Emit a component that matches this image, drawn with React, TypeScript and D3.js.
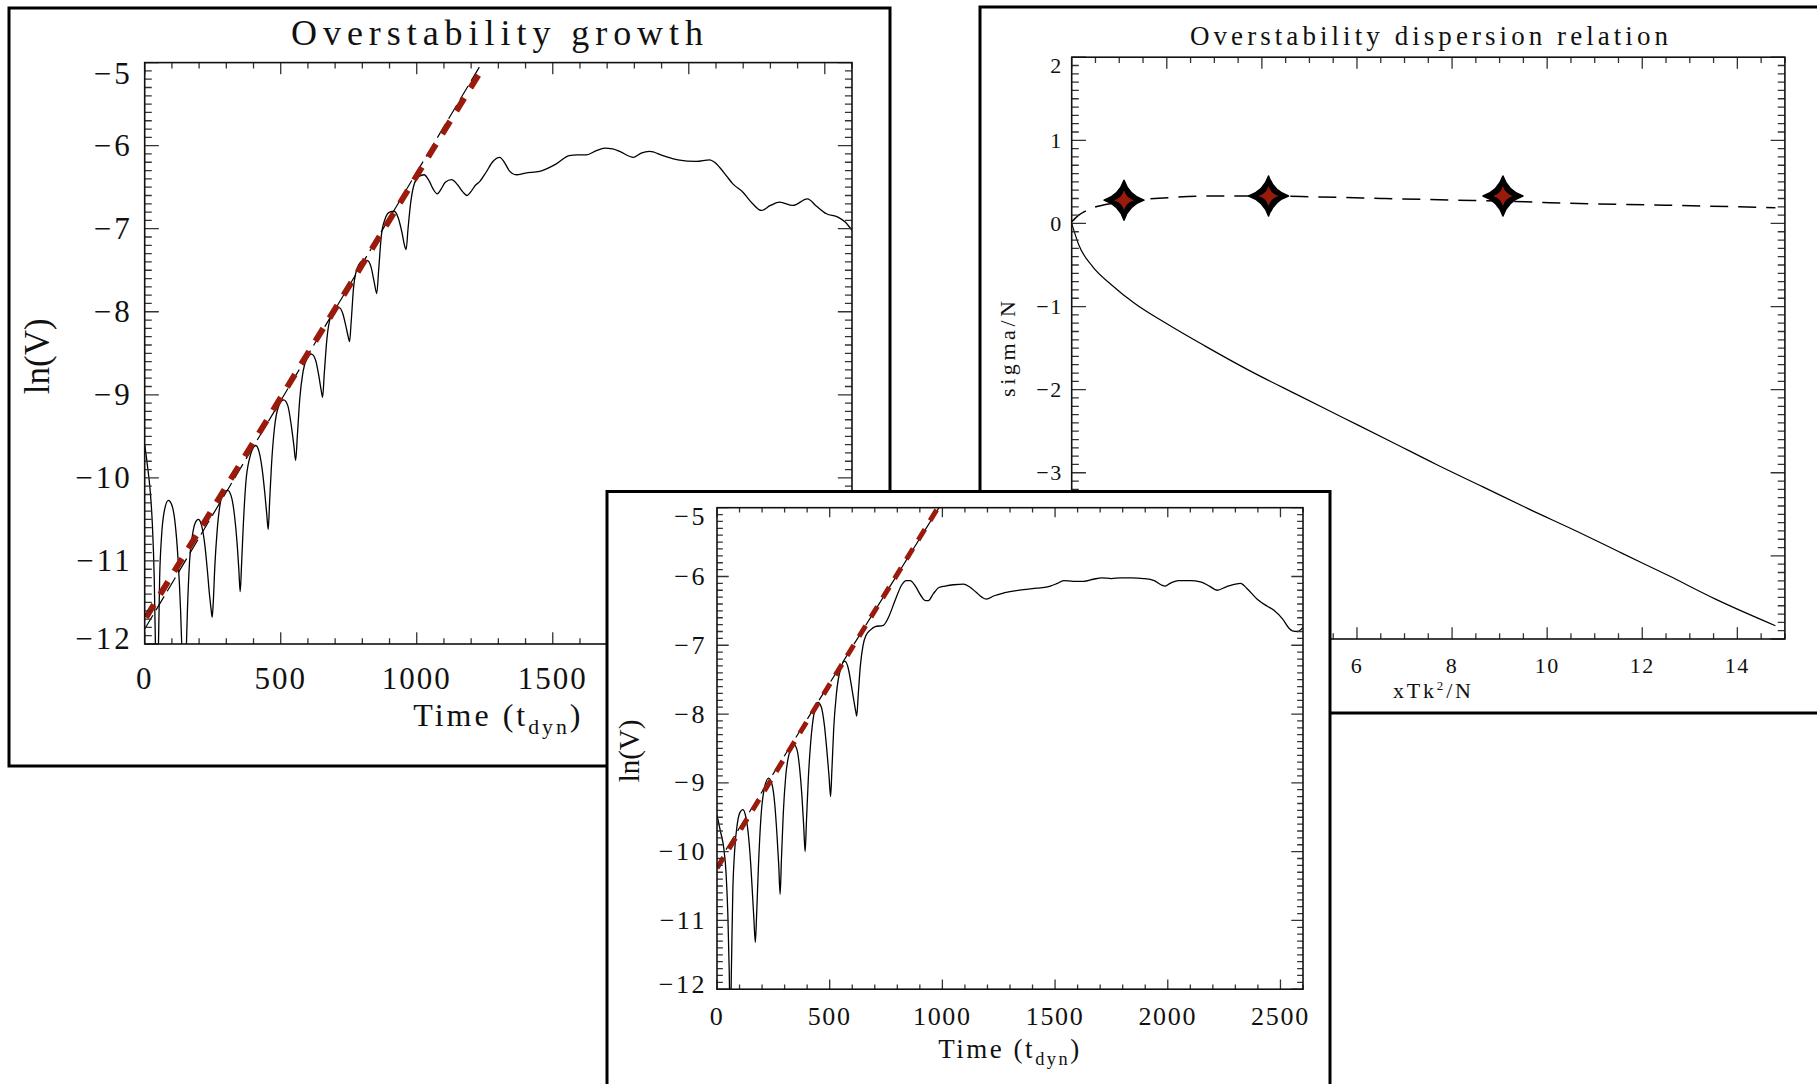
import React from 'react'
import * as d3 from 'd3'

// ---------- Overstability growth (top-left run) ----------
const timeA = [
  0, 10, 20, 28, 35, 41, 45, 49, 55, 62, 72, 87, 100, 112, 122, 132, 140, 146,
  150, 157, 165, 175, 186, 197, 208, 220, 230, 238, 244, 248, 252, 258, 266, 278,
  292, 305, 318, 330, 340, 346, 351, 356, 362, 372, 385, 397, 408, 420, 432, 442,
  449, 454, 459, 466, 477, 492, 511, 526, 538, 548, 555, 561, 570, 582, 597, 613,
  628, 640, 649, 654, 660, 670, 684, 698, 714, 728, 740, 748, 753, 759, 768, 782,
  800, 818, 832, 844, 853, 860, 870, 884, 900, 917, 932, 946, 955, 961, 968, 978,
  992, 1008, 1027, 1045, 1060, 1075, 1090, 1105, 1128, 1150, 1170, 1185, 1200,
  1215, 1232, 1255, 1280, 1305, 1322, 1340, 1366, 1400, 1452, 1513, 1560, 1590,
  1624, 1660, 1691, 1720, 1746, 1797, 1825, 1856, 1905, 1960, 2028, 2077, 2095,
  2113, 2140, 2162, 2199, 2235, 2267, 2300, 2334, 2383, 2436, 2470, 2506, 2548,
  2575, 2600
]
const lnVA = [
  -9.6, -9.85, -10.15, -10.55, -11.2, -12.3, -12.8, -12.3, -11.2, -10.7, -10.4, -10.27, -10.33, -10.55, -10.95, -11.6, -12.4, -12.8,
  -12.4, -11.6, -11.0, -10.7, -10.54, -10.5, -10.56, -10.78, -11.1, -11.4, -11.58, -11.68, -11.5, -11.05, -10.65, -10.3,
  -10.17, -10.15, -10.22, -10.45, -10.8, -11.1, -11.37, -11.05, -10.6, -10.05, -9.77, -9.65, -9.61, -9.68, -9.9, -10.2,
  -10.45, -10.62, -10.3, -9.85, -9.4, -9.14, -9.06, -9.13, -9.35, -9.6, -9.79, -9.5, -9.05, -8.72, -8.56, -8.51,
  -8.58, -8.77, -8.95, -9.03, -8.75, -8.32, -8.05, -7.97, -7.95, -8.02, -8.18, -8.3, -8.36, -8.12, -7.7, -7.47,
  -7.39, -7.38, -7.46, -7.65, -7.78, -7.5, -7.08, -6.88, -6.8, -6.79, -6.87, -7.05, -7.2, -7.25, -7.0, -6.68,
  -6.45, -6.37, -6.35, -6.42, -6.52, -6.58, -6.52, -6.44, -6.41, -6.47, -6.56, -6.6, -6.55,
  -6.48, -6.43, -6.32, -6.19, -6.14, -6.2, -6.3, -6.35, -6.33, -6.31, -6.22, -6.12, -6.11,
  -6.11, -6.06, -6.03, -6.04, -6.07, -6.14, -6.09, -6.07, -6.12, -6.17, -6.19, -6.17, -6.2,
  -6.26, -6.37, -6.46, -6.56, -6.7, -6.78, -6.72, -6.68, -6.72, -6.64, -6.73, -6.82, -6.86,
  -6.92, -7.02
]
const redFitTimeA = [5, 1236]
const redFitLnVA = [-11.68, -5.1]
const blackFitTimeA = [0, 1240]
const blackFitLnVA = [-11.82, -5.0]

// ---------- second run (bottom panel) ----------
const timeC = [
  0, 15, 30, 40, 48, 54, 59, 64, 70, 78, 90, 102, 115, 128, 140, 150, 158, 164, 170,
  176, 184, 195, 210, 229, 244, 256, 266, 274, 280, 286, 294, 305, 320, 340, 355, 367,
  377, 385, 391, 397, 405, 416, 430, 448, 463, 476, 488, 497, 504, 510, 518, 530, 546,
  567, 582, 596, 608, 615, 620, 627, 636, 648, 662, 680, 702, 738, 760, 790, 820, 840,
  857, 880, 905, 925, 938, 960, 985, 1012, 1050, 1094, 1120, 1150, 1175, 1195, 1230,
  1272, 1360, 1420, 1479, 1510, 1538, 1580, 1627, 1670, 1708, 1750, 1789, 1840, 1893,
  1940, 1970, 1989, 2010, 2048, 2100, 2145, 2185, 2219, 2260, 2300, 2323, 2350, 2397,
  2440, 2471, 2510, 2540, 2553, 2575, 2600
]
const lnVC = [
  -9.47, -9.7, -9.95, -10.3, -10.9, -11.7, -12.6, -11.7, -10.6, -10.0, -9.6, -9.43, -9.39, -9.5, -9.78, -10.2, -10.65, -11.0, -11.32,
  -10.9, -10.2, -9.5, -9.08, -8.93, -9.02, -9.3, -9.75, -10.2, -10.62, -10.1, -9.45, -8.9, -8.58, -8.44, -8.52, -8.8,
  -9.2, -9.65, -10.0, -9.55, -8.95, -8.4, -8.0, -7.83, -7.9, -8.15, -8.55, -8.9, -9.2, -8.8, -8.2, -7.7, -7.37,
  -7.23, -7.33, -7.58, -7.82, -7.95, -8.03, -7.7, -7.3, -7.0, -6.85, -6.78, -6.73, -6.71, -6.6, -6.35, -6.12, -6.06,
  -6.06, -6.14, -6.28, -6.35, -6.35, -6.25, -6.16, -6.14, -6.12, -6.11, -6.15, -6.23, -6.3, -6.33, -6.28,
  -6.24, -6.19, -6.17, -6.14, -6.1, -6.06, -6.07, -6.07, -6.04, -6.02, -6.03, -6.02, -6.02, -6.03,
  -6.06, -6.12, -6.14, -6.1, -6.06, -6.06, -6.08, -6.14, -6.2, -6.15, -6.11, -6.1, -6.17, -6.33,
  -6.43, -6.49, -6.62, -6.76, -6.79, -6.8, -6.74
]
const redFitTimeC = [0, 975]
const redFitLnVC = [-10.24, -5.03]
const blackFitTimeC = [40, 985]
const blackFitLnVC = [-9.97, -5.0]

const timeTicks = [0, 500, 1000, 1500, 2000, 2500]
const lnVTicks = [-12, -11, -10, -9, -8, -7, -6, -5]

// ---------- dispersion relation ----------
const dispX = [0, 0.15, 0.44, 0.84, 1.32, 2.01, 2.79, 3.77, 4.74, 5.72, 6.7, 7.67, 8.65, 9.63, 10.61, 11.58, 12.56, 13.54, 14.8]
const dispSolid = [0, -0.26, -0.52, -0.74, -0.96, -1.21, -1.47, -1.78, -2.06, -2.34, -2.62, -2.9, -3.17, -3.44, -3.7, -3.97, -4.24, -4.52, -4.84]
const growthX = [0, 0.15, 0.37, 0.93, 2.03, 2.91, 4.14, 5.12, 6.59, 8.07, 9.54, 10.04, 12.5, 14.8]
const growthDashed = [0.02, 0.1, 0.17, 0.25, 0.31, 0.33, 0.33, 0.32, 0.3, 0.28, 0.26, 0.25, 0.22, 0.19]
const measuredX = [1.1, 4.14, 9.07]
const measuredSigma = [0.28, 0.33, 0.33]
const dispXTicks = [0, 2, 4, 6, 8, 10, 12, 14]
const dispYTicks = [-5, -4, -3, -2, -1, 0, 1, 2]

const FONT = '"Liberation Serif", "Times New Roman", serif'
const RED = '#9a1b0b'

type Box = { l: number; t: number; r: number; b: number }

const fmt = (v: number) => (v < 0 ? '\u2212' + Math.abs(v) : String(v))

// inward ticks on all four sides, IDL style
function Axes({ x, y, plot, xMajor, yMajor, xMinor, yMinor }: {
  x: d3.ScaleLinear<number, number>; y: d3.ScaleLinear<number, number>; plot: Box
  xMajor: number[]; yMajor: number[]; xMinor: number; yMinor: number
}) {
  const w = plot.r - plot.l
  const h = plot.b - plot.t
  const xl = 0.02 * h
  const yl = 0.02 * w
  const [x0, x1] = x.domain()
  const [y0, y1] = y.domain()
  const xm = d3.range(x0, x1 + 1e-9, xMinor).filter(v => !xMajor.some(m => Math.abs(m - v) < 1e-6))
  const ym = d3.range(y0, y1 + 1e-9, yMinor).filter(v => !yMajor.some(m => Math.abs(m - v) < 1e-6))
  const segs: string[] = []
  xMajor.forEach(v => { const px = x(v); segs.push(`M${px},${plot.b}v${-xl}M${px},${plot.t}v${xl}`) })
  xm.forEach(v => { const px = x(v); segs.push(`M${px},${plot.b}v${-xl / 2}M${px},${plot.t}v${xl / 2}`) })
  yMajor.forEach(v => { const py = y(v); segs.push(`M${plot.l},${py}h${yl}M${plot.r},${py}h${-yl}`) })
  ym.forEach(v => { const py = y(v); segs.push(`M${plot.l},${py}h${yl / 2}M${plot.r},${py}h${-yl / 2}`) })
  return (
    <g>
      <path d={segs.join('')} stroke="#333" strokeWidth={1.3} fill="none" />
      <rect x={plot.l} y={plot.t} width={w} height={h} fill="none" stroke="#111" strokeWidth={1.6} />
    </g>
  )
}

function TimePanel({ id, frame, plot, time, lnV, redT, redV, blackT, blackV, tickFont, labelFont, yLabelFont, xLabelY, tickBaseline, yLabelX, title }: {
  id: string; frame: { x: number; y: number; w: number; h: number }; plot: Box
  time: number[]; lnV: number[]; redT: number[]; redV: number[]; blackT: number[]; blackV: number[]
  tickFont: number; labelFont: number; yLabelFont: number; xLabelY: number; tickBaseline: number; yLabelX: number
  title?: string
}) {
  const x = d3.scaleLinear().domain([0, 2600]).range([plot.l, plot.r])
  const y = d3.scaleLinear().domain([-12, -5]).range([plot.b, plot.t])
  const curve = d3.line<number>().x((_, i) => x(time[i])).y(d => y(d)).curve(d3.curveMonotoneX)(lnV) || ''
  const red = d3.line<number>().x((_, i) => x(redT[i])).y(d => y(d))(redV) || ''
  const black = d3.line<number>().x((_, i) => x(blackT[i])).y(d => y(d))(blackV) || ''
  const cx = (plot.l + plot.r) / 2
  const s = tickFont / 31
  return (
    <g fontFamily={FONT} fill="#111">
      <rect x={frame.x} y={frame.y} width={frame.w} height={frame.h} fill="#fff" stroke="#000" strokeWidth={3} />
      <clipPath id={id}>
        <rect x={plot.l} y={plot.t} width={plot.r - plot.l} height={plot.b - plot.t} />
      </clipPath>
      {title && (
        <text x={497} y={45} textAnchor="middle" fontSize={36} textLength={412} lengthAdjust="spacing">{title}</text>
      )}
      <g clipPath={`url(#${id})`}>
        <path d={curve} fill="none" stroke="#000" strokeWidth={1.3} />
        <path d={black} fill="none" stroke="#000" strokeWidth={1.2} strokeDasharray="16,6" />
        <path d={red} fill="none" stroke={RED} strokeWidth={6 * s} strokeDasharray={`${15 * s},${12 * s}`} />
      </g>
      <Axes x={x} y={y} plot={plot} xMajor={timeTicks} yMajor={lnVTicks} xMinor={100} yMinor={0.1} />
      {lnVTicks.map((v, i) => {
        const off = i === 0 ? -6 * s : i === lnVTicks.length - 1 ? 11 * s : 0
        return (
          <text key={v} x={plot.l - 12 * s} y={y(v) + off} textAnchor="end" dominantBaseline="central"
            fontSize={tickFont} letterSpacing={3 * s}>{fmt(v)}</text>
        )
      })}
      {timeTicks.map(v => (
        <text key={v} x={x(v)} y={tickBaseline} textAnchor="middle" fontSize={tickFont} letterSpacing={2 * s}>{v}</text>
      ))}
      <text x={cx} y={xLabelY} textAnchor="middle" fontSize={labelFont} letterSpacing={3 * s}>
        Time (t<tspan dy={8 * s} fontSize={labelFont * 0.68}>dyn</tspan><tspan dy={-8 * s}>)</tspan>
      </text>
      <text transform={`translate(${yLabelX},${(plot.t + plot.b) / 2 + 3 * s}) rotate(-90)`} textAnchor="middle"
        dominantBaseline="central" fontSize={yLabelFont}>ln(V)</text>
    </g>
  )
}

function starPath(cx: number, cy: number, R: number, c: number) {
  return `M${cx},${cy - R}Q${cx + c},${cy - c} ${cx + R},${cy}Q${cx + c},${cy + c} ${cx},${cy + R}` +
    `Q${cx - c},${cy + c} ${cx - R},${cy}Q${cx - c},${cy - c} ${cx},${cy - R}Z`
}

function DispersionPanel() {
  const plot: Box = { l: 1071.7, t: 57.2, r: 1784.9, b: 639 }
  const x = d3.scaleLinear().domain([0, 15]).range([plot.l, plot.r])
  const y = d3.scaleLinear().domain([-5, 2]).range([plot.b, plot.t])
  const solid = d3.line<number>().x((_, i) => x(dispX[i])).y(d => y(d)).curve(d3.curveMonotoneX)(dispSolid) || ''
  const dashed = d3.line<number>().x((_, i) => x(growthX[i])).y(d => y(d)).curve(d3.curveMonotoneX)(growthDashed) || ''
  return (
    <g fontFamily={FONT} fill="#111">
      <rect x={980} y={7} width={880} height={706} fill="#fff" stroke="#000" strokeWidth={3} />
      <text x={1429} y={45} textAnchor="middle" fontSize={27} textLength={478} lengthAdjust="spacing">
        Overstability dispersion relation
      </text>
      <path d={solid} fill="none" stroke="#000" strokeWidth={1.2} />
      <path d={dashed} fill="none" stroke="#000" strokeWidth={1.5} strokeDasharray="18,10" />
      {measuredX.map((v, i) => (
        <g key={v}>
          <path d={starPath(x(v), y(measuredSigma[i]), 20, 5)} fill="#000" stroke="#000" strokeWidth={1.5} strokeLinejoin="round" />
          <path d={starPath(x(v), y(measuredSigma[i]), 10, 2.2)} fill={RED} />
        </g>
      ))}
      <Axes x={x} y={y} plot={plot} xMajor={dispXTicks} yMajor={dispYTicks} xMinor={0.5} yMinor={0.1} />
      {dispYTicks.map((v, i) => (
        <text key={v} x={plot.l - 9} y={y(v) + (i === dispYTicks.length - 1 ? 8 : 0)} textAnchor="end"
          dominantBaseline="central" fontSize={22} letterSpacing={1.5}>{fmt(v)}</text>
      ))}
      {dispXTicks.map(v => (
        <text key={v} x={x(v)} y={673} textAnchor="middle" fontSize={22} letterSpacing={1.5}>{v}</text>
      ))}
      <text x={1432} y={698} textAnchor="middle" fontSize={22} textLength={78} lengthAdjust="spacing">
        xTk<tspan dy={-8} fontSize={13}>2</tspan><tspan dy={8}>/N</tspan>
      </text>
      <text transform="translate(1007,349) rotate(-90)" textAnchor="middle" dominantBaseline="central"
        fontSize={22} textLength={96} lengthAdjust="spacing">sigma/N</text>
    </g>
  )
}

export default function App() {
  return (
    <div style={{ position: 'absolute', left: 0, top: 0, width: 1817, height: 1084, background: '#fff' }}>
      <svg width={1817} height={1084} style={{ display: 'block' }}>
        <rect width={1817} height={1084} fill="#fff" />
        <TimePanel id="clipA" frame={{ x: 9, y: 8, w: 881, h: 758 }} plot={{ l: 144.7, t: 62.6, r: 852, b: 644 }}
          time={timeA} lnV={lnVA} redT={redFitTimeA} redV={redFitLnVA} blackT={blackFitTimeA} blackV={blackFitLnVA}
          tickFont={31} labelFont={32} yLabelFont={35} xLabelY={726} tickBaseline={689} yLabelX={37}
          title="Overstability growth" />
        <DispersionPanel />
        <TimePanel id="clipC" frame={{ x: 607, y: 491.5, w: 723, h: 640 }} plot={{ l: 717, t: 507.7, r: 1303, b: 989.2 }}
          time={timeC} lnV={lnVC} redT={redFitTimeC} redV={redFitLnVC} blackT={blackFitTimeC} blackV={blackFitLnVC}
          tickFont={26} labelFont={27} yLabelFont={29} xLabelY={1058} tickBaseline={1025} yLabelX={629} />
      </svg>
    </div>
  )
}
